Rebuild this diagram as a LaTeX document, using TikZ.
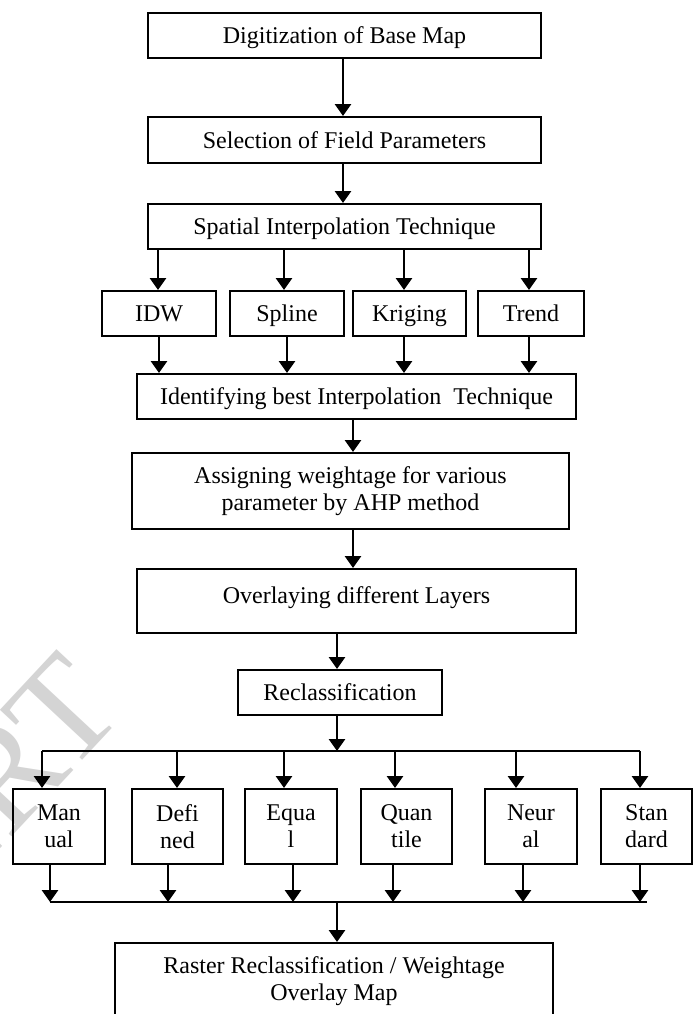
\documentclass[tikz,border=0pt]{standalone}
\usepackage{fontspec}
\setmainfont{Liberation Serif}
\usetikzlibrary{arrows.meta}
\begin{document}
\begin{tikzpicture}[x=0.5pt,y=-0.5pt,
  box/.style={draw, line width=1pt, inner sep=0pt, align=center, font=\fontsize{12}{13.6}\selectfont},
  one/.style={box, text height=9pt, text depth=1pt},
  arr/.style={line width=1.4pt, -{Triangle[width=8pt,length=6pt]}},
  bus/.style={line width=1pt},
  wmark/.style={rotate=47, anchor=base east, text=black!17, inner sep=0pt, font=\fontsize{72}{72}\selectfont}]
\useasboundingbox (0,0) rectangle (697,1014);
\clip (0,0) rectangle (697,1014);
% watermark
\node[wmark] (wm) at (128,712) {IJERT};
% boxes
\node[one, minimum width=196.5pt, minimum height=22.5pt] (dig) at (344.5,35.5) {Digitization of Base Map};
\node[one, minimum width=196.5pt, minimum height=23pt] (sel) at (344.5,140) {Selection of Field Parameters};
\node[one, minimum width=196.5pt, minimum height=22.5pt] (spa) at (344.5,226.5) {Spatial Interpolation Technique};
\node[one, minimum width=57pt, minimum height=22.5pt] (idw) at (159,313.5) {IDW};
\node[one, minimum width=57pt, minimum height=22.5pt] (spl) at (287,313.5) {Spline};
\node[one, minimum width=56.5pt, minimum height=22.5pt] (kri) at (409.5,313.5) {Kriging};
\node[one, minimum width=53pt, minimum height=22.5pt] (tre) at (531,313.5) {Trend};
\node[one, minimum width=219.5pt, minimum height=22.5pt] (ide) at (356.5,396.5) {Identifying best Interpolation~ Technique};
\node[box, minimum width=218.5pt, minimum height=38pt] (ass) at (350.5,491) {Assigning weightage for various\\parameter by AHP method};
\node[box, minimum width=219.5pt, minimum height=32pt, text height=8pt, text depth=6pt] (ovl) at (356.5,601) {Overlaying different Layers};
\node[one, minimum width=102pt, minimum height=22.5pt] (rec) at (340,692.5) {Reclassification};
\node[box, minimum width=46pt, minimum height=37.5pt] (man) at (59,826.5) {Man\\ual};
\node[box, minimum width=45.5pt, minimum height=37.5pt] (def) at (177.5,826.5) {Defi\\ned};
\node[box, minimum width=46pt, minimum height=37.5pt] (equ) at (291,826.5) {Equa\\l};
\node[box, minimum width=45.5pt, minimum height=37.5pt] (qua) at (406.5,826.5) {Quan\\tile};
\node[box, minimum width=46pt, minimum height=37.5pt] (neu) at (531,826.5) {Neur\\al};
\node[box, minimum width=45.5pt, minimum height=37.5pt] (sta) at (646.5,826.5) {Stan\\dard};
\node[box, minimum width=219pt, minimum height=38pt] (fin) at (334,981) {Raster Reclassification / Weightage\\Overlay Map};
% helper coordinates
\coordinate (a1) at (343,0);
\coordinate (s1) at (158,0);
\coordinate (s2) at (284,0);
\coordinate (s3) at (404,0);
\coordinate (s4) at (529,0);
\coordinate (t1) at (159,0);
\coordinate (t2) at (287,0);
\coordinate (a2) at (353,0);
\coordinate (a3) at (337,0);
\coordinate (busA) at (337,751);
\coordinate (busL) at (42,751);
\coordinate (busR) at (640,751);
\coordinate (b2) at (177,0);
\coordinate (b3) at (284,0);
\coordinate (b4) at (395,0);
\coordinate (b5) at (516,0);
\coordinate (busB) at (337,902);
\coordinate (botL) at (50,902);
\coordinate (botR) at (647,902);
\coordinate (c2) at (168,0);
\coordinate (c3) at (293,0);
\coordinate (c4) at (393,0);
\coordinate (c5) at (523,0);
\coordinate (c6) at (640,0);
% connectors
\draw[arr] (a1 |- dig.south) -- (a1 |- sel.north);
\draw[arr] (a1 |- sel.south) -- (a1 |- spa.north);
\draw[arr] (s1 |- spa.south) -- (s1 |- idw.north);
\draw[arr] (s2 |- spa.south) -- (s2 |- spl.north);
\draw[arr] (s3 |- spa.south) -- (s3 |- kri.north);
\draw[arr] (s4 |- spa.south) -- (s4 |- tre.north);
\draw[arr] (t1 |- idw.south) -- (t1 |- ide.north);
\draw[arr] (t2 |- spl.south) -- (t2 |- ide.north);
\draw[arr] (s3 |- kri.south) -- (s3 |- ide.north);
\draw[arr] (s4 |- tre.south) -- (s4 |- ide.north);
\draw[arr] (a2 |- ide.south) -- (a2 |- ass.north);
\draw[arr] (a2 |- ass.south) -- (a2 |- ovl.north);
\draw[arr] (a3 |- ovl.south) -- (a3 |- rec.north);
\draw[arr] (a3 |- rec.south) -- (busA);
\draw[bus] (busL) -- (busR);
\draw[arr] (busL) -- (busL |- man.north);
\draw[arr] (b2 |- busA) -- (b2 |- def.north);
\draw[arr] (b3 |- busA) -- (b3 |- equ.north);
\draw[arr] (b4 |- busA) -- (b4 |- qua.north);
\draw[arr] (b5 |- busA) -- (b5 |- neu.north);
\draw[arr] (busR) -- (busR |- sta.north);
\draw[arr] (botL |- man.south) -- (botL);
\draw[arr] (c2 |- def.south) -- (c2 |- busB);
\draw[arr] (c3 |- equ.south) -- (c3 |- busB);
\draw[arr] (c4 |- qua.south) -- (c4 |- busB);
\draw[arr] (c5 |- neu.south) -- (c5 |- busB);
\draw[arr] (c6 |- sta.south) -- (c6 |- busB);
\draw[bus] (botL) -- (botR);
\draw[arr] (busB) -- (busB |- fin.north);
\end{tikzpicture}
\end{document}
